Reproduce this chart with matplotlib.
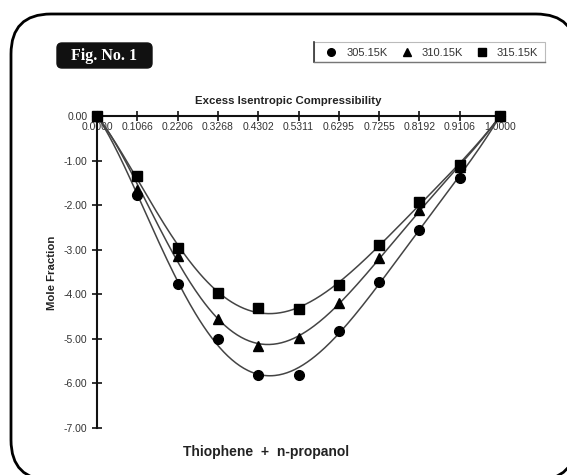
import numpy as np
import matplotlib
matplotlib.use("Agg")
import matplotlib.pyplot as plt
from matplotlib.patches import FancyBboxPatch

plt.rcParams['font.family'] = ['Liberation Sans', 'DejaVu Sans']

x_labels = ["0.0000", "0.1066", "0.2206", "0.3268", "0.4302", "0.5311",
            "0.6295", "0.7255", "0.8192", "0.9106", "1.0000"]
y_305 = [0.00, -1.77, -3.78, -5.00, -5.80, -5.80, -4.82, -3.72, -2.55, -1.38, 0.00]
y_310 = [0.00, -1.65, -3.13, -4.55, -5.15, -4.98, -4.19, -3.18, -2.12, -1.15, 0.00]
y_315 = [0.00, -1.35, -2.97, -3.97, -4.30, -4.32, -3.80, -2.90, -1.94, -1.10, 0.00]
series = [("305.15K", y_305, "o"), ("310.15K", y_310, "^"), ("315.15K", y_315, "s")]

fig = plt.figure(figsize=(5.67, 4.75), dpi=100)

# overlay in pixel coordinates for decorations
bg = fig.add_axes([0, 0, 1, 1], zorder=0)
bg.set_xlim(0, 567)
bg.set_ylim(475, 0)
bg.axis('off')
bg.add_patch(FancyBboxPatch((11, 14), 565, 466, boxstyle="round,pad=0,rounding_size=40",
                            fc='white', ec='black', lw=2, clip_on=False))
bg.add_patch(FancyBboxPatch((57, 43), 95, 25, boxstyle="round,pad=0,rounding_size=5",
                            fc='#111111', ec='#111111', lw=1))
bg.text(104.5, 56, "Fig. No. 1", color='white', fontsize=11.5, fontweight='bold',
        family=['Liberation Serif'], ha='center', va='center')
# legend box
bg.add_patch(plt.Rectangle((314, 42), 231, 20, fc='white', ec='#bbbbbb', lw=0.8))
bg.plot([314, 314], [42, 62], color='#333333', lw=1.2)
bg.plot([314, 545], [62, 62], color='#777777', lw=1.0)
leg_m = [331, 407, 482]
leg_t = [347, 422, 497]
for (name, _, m), mx, tx in zip(series, leg_m, leg_t):
    bg.plot([mx], [52], marker=m, color='black', ms=5.5, ls='none')
    bg.text(tx, 52.5, name, fontsize=8, va='center', ha='left', color='#333333')

ax = fig.add_axes([97/567, 1-428/475, (500-97)/567, (428-116)/475], zorder=1)
ax.patch.set_alpha(0)
pos = np.arange(len(x_labels))

t = pos / (len(pos) - 1)
tf = np.linspace(0, 1, 300)
for name, yv, m in series:
    yv = np.array(yv)
    # Redlich-Kister style smooth fit through the data
    z = 2 * t - 1
    A = np.column_stack([t * (1 - t) * z**k for k in range(4)])
    coef, *_ = np.linalg.lstsq(A, yv, rcond=None)
    zf = 2 * tf - 1
    Af = np.column_stack([tf * (1 - tf) * zf**k for k in range(4)])
    ax.plot(tf * (len(pos) - 1), Af @ coef, color='#444444', lw=1.1, zorder=2)
    ax.plot(pos, yv, marker=m, color='black', ms=7, ls='none', zorder=3, clip_on=False)

ax.set_xlim(0, len(pos) - 1)
ax.set_ylim(-7, 0)
ax.set_xticks(pos)
ax.set_xticklabels(x_labels)
ax.set_yticks(np.arange(-7, 0.5, 1))
ax.set_yticklabels([f"{v:.2f}" for v in np.arange(-7, 0.5, 1)])
ax.spines['top'].set_visible(False)
ax.spines['right'].set_visible(False)
ax.spines['bottom'].set_position(('data', 0))
for s in ('bottom', 'left'):
    ax.spines[s].set_linewidth(1.5)
    ax.spines[s].set_color('#111111')
ax.tick_params(axis='both', direction='inout', length=7, width=1.2, labelsize=7.5,
               labelcolor='#333333', colors='#111111')
ax.tick_params(axis='x', pad=1)
for lbl in ax.get_xticklabels() + ax.get_yticklabels():
    lbl.set_color('#333333')

bg.text(288.5, 101, "Excess Isentropic Compressibility", fontsize=8.2, fontweight='bold',
        color='#222222', ha='center', va='center')
bg.text(52, 272.5, "Mole Fraction", fontsize=8.2, fontweight='bold', color='#222222',
        rotation=90, ha='center', va='center')
bg.text(266, 452, "Thiophene  +  n-propanol", fontsize=10, fontweight='bold',
        color='#222222', ha='center', va='center')

fig.savefig("out.png", dpi=100)
